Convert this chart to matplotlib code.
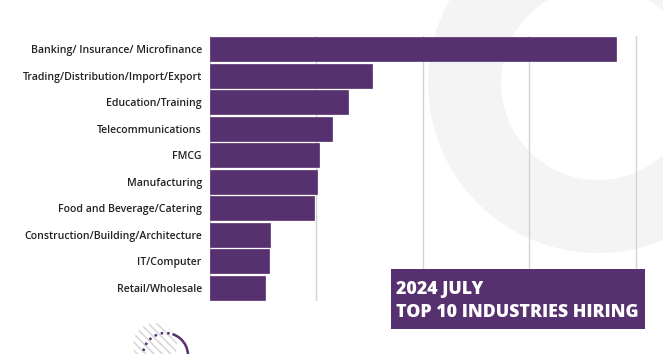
import matplotlib
matplotlib.use("Agg")
import matplotlib.pyplot as plt
from matplotlib.patches import Wedge, Circle, Arc, Rectangle

categories = [
    "Banking/ Insurance/ Microfinance",
    "Trading/Distribution/Import/Export",
    "Education/Training",
    "Telecommunications",
    "FMCG",
    "Manufacturing",
    "Food and Beverage/Catering",
    "Construction/Building/Architecture",
    "IT/Computer",
    "Retail/Wholesale",
]
values = [381, 152, 130, 115, 103, 101, 98, 57, 56, 52]
grid_ticks = [0, 100, 200, 300, 400]
title_lines = ["2024 JULY", "TOP 10 INDUSTRIES HIRING"]

PURPLE = "#56306f"
W, H = 663, 354
fig = plt.figure(figsize=(W / 100, H / 100), dpi=100)
fig.patch.set_facecolor("white")

# background decoration axes (pixel coords)
bg = fig.add_axes([0, 0, 1, 1], zorder=0)
bg.set_xlim(0, W)
bg.set_ylim(H, 0)
bg.axis("off")
bg.add_patch(Wedge((598, 83), 170, 0, 360, width=73, facecolor="#f4f4f4", edgecolor="none"))
plt.rcParams["hatch.linewidth"] = 1.2
bg.add_patch(Circle((155, 345), 22, facecolor="none", edgecolor="#d9d9d9", hatch="\\\\\\\\", linewidth=0))
bg.add_patch(Arc((165.5, 355.5), 45, 45, theta1=175, theta2=288, color=PURPLE, lw=1.8,
                 linestyle=(0, (1, 1.6))))
bg.add_patch(Arc((165.5, 355.5), 45, 45, theta1=288, theta2=380, color=PURPLE, lw=1.8))

# main chart
px_per_unit = (636 - 209.5) / 400
xmax = 405
left = 209.5 / W
right = (209.5 + xmax * px_per_unit) / W
bottom = 1 - 301 / H
top = 1 - 36 / H
ax = fig.add_axes([left, bottom, right - left, top - bottom], zorder=1)
ax.patch.set_alpha(0)
ypos = list(range(len(categories)))
ax.barh(ypos, values, height=0.89, color=PURPLE, edgecolor=PURPLE, linewidth=0.5, zorder=3)
ax.set_ylim(len(categories) - 0.5, -0.5)
ax.set_xlim(0, xmax)
ax.set_xticks(grid_ticks)
ax.set_xticklabels([])
ax.tick_params(axis="x", length=0)
ax.tick_params(axis="y", length=0, pad=5.5)
ax.set_yticks(ypos)
ax.set_yticklabels(categories, fontsize=7.6, color="#222222", family="Open Sans", fontweight="semibold")
for s in ax.spines.values():
    s.set_visible(False)
ax.grid(axis="x", color="#d3d3d3", linewidth=1.0, zorder=0)
ax.set_axisbelow(True)

# title box
box = fig.add_axes([0, 0, 1, 1], zorder=2)
box.set_xlim(0, W)
box.set_ylim(H, 0)
box.axis("off")
box.add_patch(Rectangle((391, 269), 254, 60, facecolor=PURPLE, edgecolor="none"))
box.text(396, 294, title_lines[0], color="white", fontsize=12.8, fontweight="heavy",
         family="Open Sans", va="baseline", ha="left")
box.text(396, 317, title_lines[1], color="white", fontsize=12.8, fontweight="heavy",
         family="Open Sans", va="baseline", ha="left")

fig.savefig("out.png", dpi=100, facecolor="white")
